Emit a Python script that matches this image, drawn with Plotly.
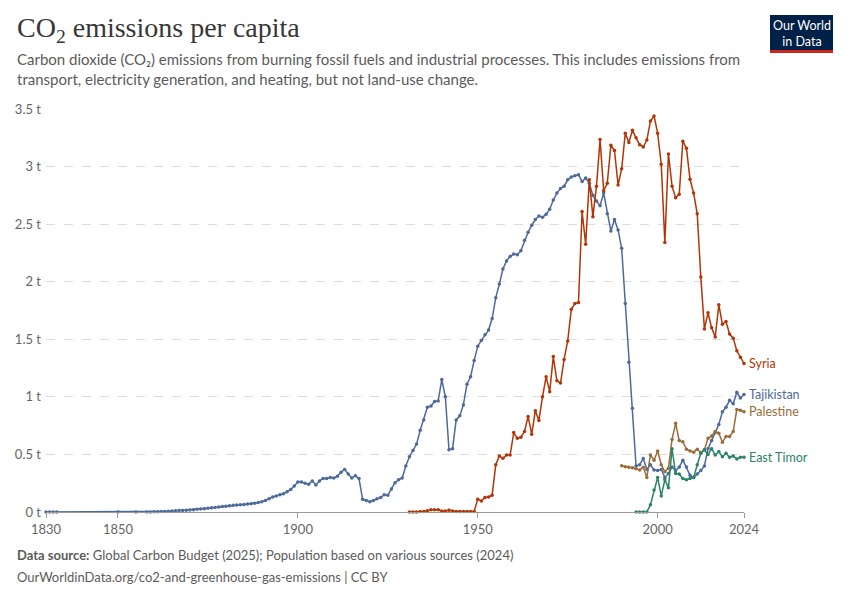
import plotly.graph_objects as go

# ---------------- data ----------------
tajik_years = [1830, 1831, 1832, 1833, 1850, 1855] + list(range(1858, 2025))
tajik_values = [
    0.0, 0.0, 0.0, 0.0, 0.0, 0.0,
    # 1858-1899
    0.000, 0.001, 0.002, 0.003, 0.004, 0.005, 0.006, 0.008, 0.010, 0.012,
    0.014, 0.016, 0.018, 0.020, 0.023, 0.026, 0.029, 0.032, 0.036, 0.040,
    0.044, 0.047, 0.051, 0.055, 0.058, 0.061, 0.064, 0.066, 0.069, 0.072,
    0.076, 0.082, 0.090, 0.100, 0.115, 0.130, 0.140, 0.150, 0.158, 0.175,
    0.195, 0.225,
    # 1900-1949
    0.26, 0.26, 0.25, 0.24, 0.27, 0.235, 0.27, 0.29, 0.29, 0.30,
    0.295, 0.31, 0.345, 0.37, 0.33, 0.295, 0.315, 0.29, 0.11, 0.10,
    0.09, 0.10, 0.115, 0.125, 0.15, 0.145, 0.20, 0.255, 0.28, 0.295,
    0.40, 0.48, 0.535, 0.59, 0.71, 0.80, 0.91, 0.92, 0.96, 0.965,
    1.15, 1.0, 0.54, 0.55, 0.80, 0.835, 0.93, 1.11, 1.175, 1.315,
    # 1950-1999
    1.44, 1.49, 1.54, 1.58, 1.68, 1.86, 1.98, 2.11, 2.18, 2.22,
    2.24, 2.235, 2.27, 2.36, 2.43, 2.49, 2.54, 2.57, 2.56, 2.585,
    2.63, 2.71, 2.77, 2.81, 2.83, 2.885, 2.91, 2.92, 2.93, 2.87,
    2.90, 2.855, 2.75, 2.70, 2.66, 2.77, 2.59, 2.44, 2.54, 2.45,
    2.29, 1.81, 1.30, 0.90, 0.40, 0.41, 0.465, 0.37, 0.41, 0.365,
    # 2000-2024
    0.36, 0.37, 0.30, 0.335, 0.39, 0.36, 0.39, 0.45, 0.39, 0.32,
    0.30, 0.33, 0.36, 0.40, 0.55, 0.62, 0.69, 0.76, 0.87, 0.91,
    0.97, 0.94, 1.04, 0.99, 1.02,
]

syria_years = list(range(1931, 2025))
syria_values = [
    0.0, 0.0, 0.0, 0.005, 0.005, 0.01, 0.02, 0.02, 0.02,
    0.008, 0.008, 0.015, 0.008, 0.005, 0.005, 0.005, 0.005, 0.005, 0.005,
    # 1950-1999
    0.11, 0.096, 0.125, 0.13, 0.146, 0.41, 0.487, 0.466, 0.495, 0.495,
    0.69, 0.64, 0.65, 0.70, 0.83, 0.675, 0.88, 0.795, 1.0, 1.175,
    1.045, 1.35, 1.14, 1.12, 1.325, 1.485, 1.76, 1.81, 1.82, 2.61,
    2.325, 2.885, 2.565, 2.83, 3.235, 2.79, 2.855, 3.185, 3.14, 2.84,
    2.98, 3.29, 3.21, 3.315, 3.25, 3.19, 3.17, 3.23, 3.395, 3.44,
    # 2000-2024
    3.29, 3.02, 2.34, 3.11, 2.83, 2.73, 2.76, 3.22, 3.16, 2.89,
    2.77, 2.59, 2.04, 1.59, 1.73, 1.60, 1.52, 1.80, 1.63, 1.655,
    1.545, 1.51, 1.40, 1.345, 1.29,
]

palestine_years = list(range(1990, 2025))
palestine_values = [
    0.402, 0.394, 0.388, 0.385, 0.376, 0.365, 0.388, 0.30, 0.495, 0.45,
    0.53, 0.41, 0.35, 0.38, 0.63, 0.77, 0.62, 0.61, 0.545, 0.53,
    0.52, 0.545, 0.516, 0.54, 0.64, 0.66, 0.70, 0.685, 0.605, 0.656,
    0.656, 0.70, 0.89, 0.883, 0.87,
]

timor_years = list(range(1994, 2025))
timor_values = [
    0.0, 0.0, 0.0, 0.0, 0.064, 0.19,
    0.30, 0.14, 0.28, 0.21, 0.55, 0.335, 0.33, 0.29, 0.28, 0.29,
    0.30, 0.41, 0.51, 0.54, 0.50, 0.55, 0.495, 0.525, 0.48, 0.51,
    0.475, 0.487, 0.46, 0.475, 0.475,
]

x_tick_vals = [1830, 1850, 1900, 1950, 2000, 2024]
x_tick_text = ["1830", "1850", "1900", "1950", "2000", "2024"]
y_tick_vals = [0, 0.5, 1, 1.5, 2, 2.5, 3, 3.5]
y_tick_text = ["0 t", "0.5 t", "1 t", "1.5 t", "2 t", "2.5 t", "3 t", "3.5 t"]

series = [
    ("Tajikistan", tajik_years, tajik_values, "#4c6a9c"),
    ("Syria", syria_years, syria_values, "#b13507"),
    ("Palestine", palestine_years, palestine_values, "#996d39"),
    ("East Timor", timor_years, timor_values, "#2c8465"),
]

FONT = "Lato, 'Noto Sans', sans-serif"

# page geometry (the page body adds an 8px offset)
PL, PR, PT, PB = 46.3, 744.0, 109.0, 512.0
PW, PH = PR - PL, PB - PT


def px(xp):
    return (xp - PL) / PW


def py(yp):
    return 1 - (yp - PT) / PH


fig = go.Figure()
for name, xs, ys, col in series:
    fig.add_trace(go.Scatter(
        x=xs, y=ys, mode="lines+markers", name=name,
        line=dict(color=col, width=1.5),
        marker=dict(color=col, size=3.5),
        cliponaxis=False,
    ))
    fig.add_annotation(
        x=xs[-1], y=ys[-1], xref="x", yref="y", text=name,
        showarrow=False, xanchor="left", yanchor="middle", xshift=3,
        font=dict(family=FONT, size=12.5, color=col),
    )

fig.update_layout(
    width=842, height=592,
    paper_bgcolor="white", plot_bgcolor="white",
    showlegend=False,
    margin=dict(l=PL - 8, r=842 - (PR - 8), t=PT - 8, b=592 - (PB - 8), autoexpand=False),
    font=dict(family=FONT, color="#666666"),
)
fig.update_xaxes(
    range=[1830, 2024], tickvals=x_tick_vals, ticktext=x_tick_text,
    showgrid=False, zeroline=False, showline=True, linecolor="#999999",
    ticks="outside", ticklen=5, tickcolor="#999999",
    tickfont=dict(family=FONT, size=13, color="#666666"),
)
fig.update_yaxes(
    range=[0, 3.5], tickvals=y_tick_vals, ticktext=y_tick_text,
    showgrid=True, gridcolor="#dddddd", griddash="dash", zeroline=False,
    tickfont=dict(family=FONT, size=13, color="#666666"),
    ticks="", ticklabelstandoff=4,
)

# Title, subtitle
fig.add_annotation(
    xref="paper", yref="paper", x=px(15), y=py(49),
    text="CO<sub>2</sub> emissions per capita", showarrow=False,
    xanchor="left", yanchor="bottom",
    font=dict(family="'Liberation Serif', 'DejaVu Serif', serif", size=28, color="#373737"),
)
fig.add_annotation(
    xref="paper", yref="paper", x=px(15), y=py(90),
    text=("Carbon dioxide (CO₂) emissions from burning fossil fuels and industrial processes. This includes emissions from<br>"
          "transport, electricity generation, and heating, but not land-use change."),
    showarrow=False, xanchor="left", yanchor="bottom", align="left",
    font=dict(family=FONT, size=15, color="#5b5b5b"),
)

# Logo
fig.add_shape(type="rect", xref="paper", yref="paper",
              x0=px(770), x1=px(833), y0=py(50), y1=py(15),
              fillcolor="#002147", line=dict(width=0))
fig.add_shape(type="rect", xref="paper", yref="paper",
              x0=px(770), x1=px(833), y0=py(53), y1=py(50),
              fillcolor="#ce261e", line=dict(width=0))
fig.add_annotation(
    xref="paper", yref="paper", x=px(801.5), y=py(33),
    text="Our World<br>in Data", showarrow=False, xanchor="center", yanchor="middle",
    font=dict(family=FONT, size=12.5, color="white"),
)

# Footer
fig.add_annotation(
    xref="paper", yref="paper", x=px(15), y=py(555),
    text="<b>Data source:</b> Global Carbon Budget (2025); Population based on various sources (2024)",
    showarrow=False, xanchor="left", yanchor="middle",
    font=dict(family=FONT, size=13, color="#5b5b5b"),
)
fig.add_annotation(
    xref="paper", yref="paper", x=px(15), y=py(577),
    text="OurWorldinData.org/co2-and-greenhouse-gas-emissions | CC BY",
    showarrow=False, xanchor="left", yanchor="middle",
    font=dict(family=FONT, size=13, color="#5b5b5b"),
)

fig.write_html("out.html")
